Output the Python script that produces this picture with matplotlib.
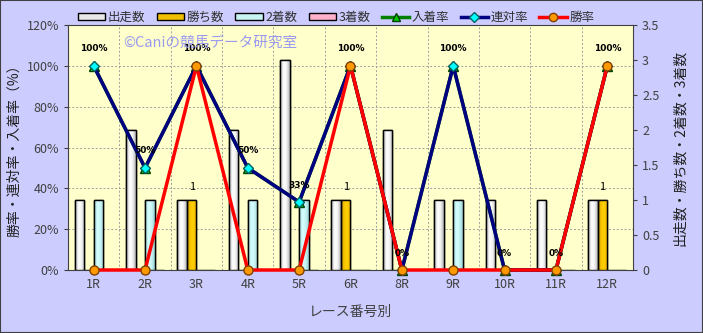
import matplotlib
matplotlib.use("Agg")
import matplotlib.pyplot as plt
import numpy as np
from matplotlib.patches import Rectangle, Patch
from matplotlib.lines import Line2D
from matplotlib.colors import LinearSegmentedColormap

plt.rcParams['font.family'] = ['Noto Sans CJK JP', 'DejaVu Sans']

races = ['1R', '2R', '3R', '4R', '5R', '6R', '8R', '9R', '10R', '11R', '12R']
starts = [1, 2, 1, 2, 3, 1, 2, 1, 1, 1, 1]
wins = [0, 0, 1, 0, 0, 1, 0, 0, 0, 0, 1]
seconds = [1, 1, 0, 1, 1, 0, 0, 1, 0, 0, 0]
thirds = [0, 0, 0, 0, 0, 0, 0, 0, 0, 0, 0]
place_rate = [100, 50, 100, 50, 33.3, 100, 0, 100, 0, 0, 100]
quinella_rate = [100, 50, 100, 50, 33.3, 100, 0, 100, 0, 0, 100]
win_rate = [0, 0, 100, 0, 0, 100, 0, 0, 0, 0, 100]

x = np.arange(len(races))

fig = plt.figure(figsize=(7.03, 3.33), dpi=100)
fig.patch.set_facecolor('#CCCCFF')
fig.add_artist(Rectangle((0, 0), 1, 1, transform=fig.transFigure, fill=False,
                         edgecolor='#404040', linewidth=1.5))

ax = fig.add_axes([68 / 703, 1 - 270 / 333, 565 / 703, 245 / 333])
ax.set_facecolor('#FFFFCC')
ax.set_xlim(-0.5, len(races) - 0.5)
ax.set_ylim(0, 120)
ax.set_yticks(np.arange(0, 121, 20))
ax.set_yticklabels([f'{v}%' for v in range(0, 121, 20)])
ax.set_xticks(x)
ax.set_xticklabels(races)
ax.set_xticks(np.arange(0.5, len(races) - 1, 1), minor=True)
ax.grid(True, axis='y', linestyle=(0, (2, 2)), color='#A0A0A0', linewidth=0.7)
ax.grid(True, axis='x', which='minor', linestyle=(0, (2, 2)), color='#A0A0A0', linewidth=0.7)
ax.tick_params(axis='x', which='both', length=0, colors='#404040', labelsize=9, pad=6)
ax.tick_params(axis='y', colors='#404040', labelsize=9, length=3, direction='out')
ax.set_axisbelow(True)
for s in ax.spines.values():
    s.set_color('#404040')
ax.set_ylabel('勝率・連対率・入着率（%）', fontsize=10, color='#202020', labelpad=4)
ax.set_xlabel('レース番号別', fontsize=10, color='#404040', labelpad=10)

# count axis with the bars
axc = ax.twinx()
axc.set_ylim(0, 3.5)
axc.set_yticks(np.arange(0, 3.51, 0.5))
axc.set_yticklabels(['0', '0.5', '1', '1.5', '2', '2.5', '3', '3.5'])
axc.tick_params(axis='y', colors='#404040', labelsize=9, length=3)
axc.set_ylabel('出走数・勝ち数・2着数・3着数', fontsize=10, color='#202020',
               rotation=90, labelpad=10)
for s in axc.spines.values():
    s.set_visible(False)

bw = 0.185
bar_series = [
    (starts, ['#9A9A9A', '#FFFFFF', '#F4F4F4', '#B0B0B0']),
    (wins, ['#C89000', '#F8C800', '#FFD000', '#D8A000']),
    (seconds, ['#8CC8C8', '#D8FFFF', '#C8F4F4', '#98D0D0']),
    (thirds, ['#D07090', '#FFC0D8', '#FFB0CC', '#D880A0']),
]
for i, (vals, cols) in enumerate(bar_series):
    offs = (i - 1.5) * bw
    bars = axc.bar(x + offs, vals, width=bw, color=cols[2], edgecolor='black',
                   linewidth=1.0, zorder=2)
    cmap = LinearSegmentedColormap.from_list('g%d' % i, cols)
    grad = np.linspace(0, 1, 64).reshape(1, -1)
    for b in bars:
        h = b.get_height()
        if h <= 0:
            continue
        x0 = b.get_x()
        im = axc.imshow(grad, extent=[x0, x0 + bw, 0, h], aspect='auto',
                        cmap=cmap, zorder=2.5, interpolation='bicubic')
        im.set_clip_path(b)
        edge = Rectangle((x0, 0), bw, h, fill=False, edgecolor='black',
                         linewidth=1.0, zorder=3)
        axc.add_patch(edge)
axc.set_xlim(-0.5, len(races) - 0.5)
axc.set_ylim(0, 3.5)

for xi, w in zip(x, wins):
    if w > 0:
        axc.annotate(str(w), (xi - 0.5 * bw, w), xytext=(0, 6), textcoords='offset points',
                     ha='center', va='bottom', fontsize=8, color='black')

# rate axis with the lines
axl = ax.twinx()
axl.set_ylim(0, 120)
axl.set_xlim(-0.5, len(races) - 0.5)
axl.set_yticks([])
for s in axl.spines.values():
    s.set_visible(False)

axl.plot(x, place_rate, color='#008000', linewidth=2.5, marker='^', markersize=7,
         markerfacecolor='#00CC00', markeredgecolor='#004000', zorder=3, clip_on=False)
axl.plot(x, quinella_rate, color='#000080', linewidth=2.5, marker='D', markersize=5.5,
         markerfacecolor='#00FFFF', markeredgecolor='#006060', zorder=4, clip_on=False)
axl.plot(x, win_rate, color='#FF0000', linewidth=2.5, marker='o', markersize=6.5,
         markerfacecolor='#FF9900', markeredgecolor='#804000', zorder=5, clip_on=False)

for xi, v in zip(x, place_rate):
    axl.annotate(f'{v:.0f}%', (xi, v), xytext=(0, 9), textcoords='offset points',
                 ha='center', va='bottom', fontsize=6.5, fontweight='bold',
                 family='DejaVu Sans', color='black', zorder=6)

fig.text(210 / 703, 1 - 44 / 333, '©Caniの競馬データ研究室', fontsize=10.5,
         color='#9A9AF0', ha='center', va='center', zorder=10)

handles = [
    Patch(facecolor='#E8E8E8', edgecolor='black', label='出走数'),
    Patch(facecolor='#F0C000', edgecolor='black', label='勝ち数'),
    Patch(facecolor='#C8F4F4', edgecolor='black', label='2着数'),
    Patch(facecolor='#FFB0CC', edgecolor='black', label='3着数'),
    Line2D([], [], color='#008000', linewidth=2.5, marker='^', markersize=6,
           markerfacecolor='#00CC00', markeredgecolor='#004000', label='入着率'),
    Line2D([], [], color='#000080', linewidth=2.5, marker='D', markersize=5,
           markerfacecolor='#00FFFF', markeredgecolor='#006060', label='連対率'),
    Line2D([], [], color='#FF0000', linewidth=2.5, marker='o', markersize=6,
           markerfacecolor='#FF9900', markeredgecolor='#804000', label='勝率'),
]
fig.legend(handles=handles, loc='center', bbox_to_anchor=(336 / 703, 1 - 17 / 333),
           ncol=7, frameon=False, fontsize=9, handlelength=2.2, handleheight=0.5,
           handletextpad=0.2, columnspacing=0.9, labelcolor='#303030')

fig.savefig('out.png', dpi=100, facecolor=fig.get_facecolor())
